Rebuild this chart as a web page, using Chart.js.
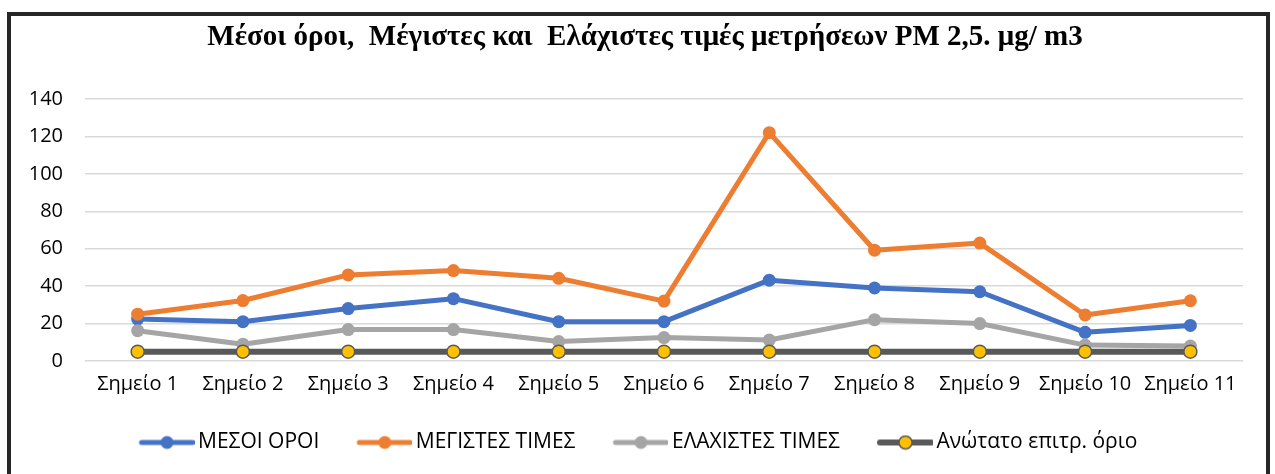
<!DOCTYPE html>
<html>
<head>
<meta charset="utf-8">
<script src="https://cdn.jsdelivr.net/npm/chart.js@4/dist/chart.umd.min.js"></script>
<style>
  html, body { margin: 0; padding: 0; background: #ffffff; overflow: hidden; }
  #wrap { position: relative; width: 1275px; height: 474px; }
  #frame { position: absolute; left: 7px; top: 12px; width: 1263px; height: 520px;
           border: 4px solid #262626; box-sizing: border-box; }
  #c { position: absolute; left: 0; top: 0; }
</style>
</head>
<body>
<div id="wrap">
  <div id="frame"></div>
  <canvas id="c" width="1275" height="474"></canvas>
</div>
<script>
const categories = ['Σημείο 1', 'Σημείο 2', 'Σημείο 3', 'Σημείο 4', 'Σημείο 5', 'Σημείο 6',
                    'Σημείο 7', 'Σημείο 8', 'Σημείο 9', 'Σημείο 10', 'Σημείο 11'];
const mesoiOroi = [22.4, 21, 28, 33.3, 21, 21, 43.2, 39, 37, 15.3, 19];
const megistesTimes = [25, 32.3, 46, 48.3, 44.2, 32, 122, 59.2, 63, 24.6, 32.2];
const elaxistesTimes = [16.2, 9, 16.8, 16.8, 10.4, 12.5, 11.2, 22.1, 20, 8.5, 8];
const anotatoOrio = [5, 5, 5, 5, 5, 5, 5, 5, 5, 5, 5];
const yTicks = [0, 20, 40, 60, 80, 100, 120, 140];

const seriesNames = ['ΜΕΣΟΙ ΟΡΟΙ', 'ΜΕΓΙΣΤΕΣ ΤΙΜΕΣ', 'ΕΛΑΧΙΣΤΕΣ ΤΙΜΕΣ', 'Ανώτατο επιτρ. όριο'];
const titleText = 'Μέσοι όροι,  Μέγιστες και  Ελάχιστες τιμές μετρήσεων PM 2,5. μg/ m3';

const tickFont = { family: "'Open Sans', 'Noto Sans', sans-serif", size: 20 };
const legendFont = { family: "'Open Sans', 'Noto Sans', sans-serif", size: 21 };

function legendIcon(lineColor, fillColor, borderColor, lineW) {
  const cv = document.createElement('canvas');
  cv.width = 62; cv.height = 16;
  const g = cv.getContext('2d');
  g.strokeStyle = lineColor;
  g.lineWidth = lineW;
  g.lineCap = 'round';
  g.beginPath(); g.moveTo(9, 8); g.lineTo(60, 8); g.stroke();
  g.beginPath(); g.arc(34.5, 8, 6.5, 0, Math.PI * 2);
  g.fillStyle = fillColor; g.fill();
  if (borderColor) { g.lineWidth = 1.5; g.strokeStyle = borderColor; g.stroke(); }
  return cv;
}

const icons = [
  legendIcon('#4472C4', '#4472C4', null, 5),
  legendIcon('#ED7D31', '#ED7D31', null, 5),
  legendIcon('#A5A5A5', '#A5A5A5', null, 5),
  legendIcon('#595959', '#FFC000', '#595959', 6)
];

const data = {
  labels: categories,
  datasets: [
    { label: seriesNames[0], data: mesoiOroi, borderColor: '#4472C4', backgroundColor: '#4472C4',
      borderWidth: 5, pointRadius: 6.5, pointBackgroundColor: '#4472C4', pointBorderWidth: 0, order: 4 },
    { label: seriesNames[1], data: megistesTimes, borderColor: '#ED7D31', backgroundColor: '#ED7D31',
      borderWidth: 5, pointRadius: 6.5, pointBackgroundColor: '#ED7D31', pointBorderWidth: 0, order: 3 },
    { label: seriesNames[2], data: elaxistesTimes, borderColor: '#A5A5A5', backgroundColor: '#A5A5A5',
      borderWidth: 5, pointRadius: 6.5, pointBackgroundColor: '#A5A5A5', pointBorderWidth: 0, order: 2 },
    { label: seriesNames[3], data: anotatoOrio, borderColor: '#595959', backgroundColor: '#FFC000',
      borderWidth: 6, pointRadius: 6.5, pointBackgroundColor: '#FFC000', pointBorderColor: '#595959',
      pointBorderWidth: 1.5, order: 1 }
  ]
};

// shift title and legend blocks horizontally (layout offsets only)
const shiftBlocks = {
  id: 'shiftBlocks',
  afterLayout(chart) {
    if (chart.titleBlock) { chart.titleBlock.left += 47; }
    if (chart.legend) { chart.legend.left += 17; chart.legend.right += 17; }
  }
};

new Chart(document.getElementById('c'), {
  type: 'line',
  data: data,
  plugins: [shiftBlocks],
  options: {
    responsive: false,
    devicePixelRatio: 1,
    animation: false,
    layout: { padding: { left: 0, right: 32, top: 0, bottom: 11 } },
    elements: { line: { tension: 0, borderCapStyle: 'round', borderJoinStyle: 'round' } },
    plugins: {
      tooltip: { enabled: false },
      title: {
        display: true,
        text: titleText,
        color: '#000000',
        font: { family: "'Liberation Serif', 'Times New Roman', serif", size: 29, weight: 'bold', lineHeight: 1.2 },
        padding: { top: 20.6, bottom: 43.6 }
      },
      legend: {
        position: 'bottom',
        labels: {
          usePointStyle: true,
          pointStyleWidth: 48,
          padding: 38,
          color: '#000000',
          font: legendFont,
          generateLabels: (chart) => chart.data.datasets.map((ds, i) => ({
            text: ds.label,
            pointStyle: icons[i],
            fillStyle: ds.borderColor,
            strokeStyle: ds.borderColor,
            lineWidth: 0,
            hidden: !chart.isDatasetVisible(i),
            datasetIndex: i,
            fontColor: '#000000'
          }))
        }
      }
    },
    scales: {
      x: {
        offset: true,
        grid: { display: false, drawTicks: false },
        border: { display: false },
        ticks: { color: '#000000', font: tickFont, padding: 11, maxRotation: 0, autoSkip: false },
        afterFit: (s) => { s.height = 33; }
      },
      y: {
        min: 0,
        max: 140,
        afterBuildTicks: (s) => { s.ticks = yTicks.map(v => ({ value: v })); },
        grid: { color: '#D9D9D9', lineWidth: 1.5, drawTicks: false },
        border: { display: false },
        ticks: { color: '#000000', font: tickFont, padding: 22 },
        afterFit: (s) => { s.width = 85; }
      }
    }
  }
});
</script>
</body>
</html>
